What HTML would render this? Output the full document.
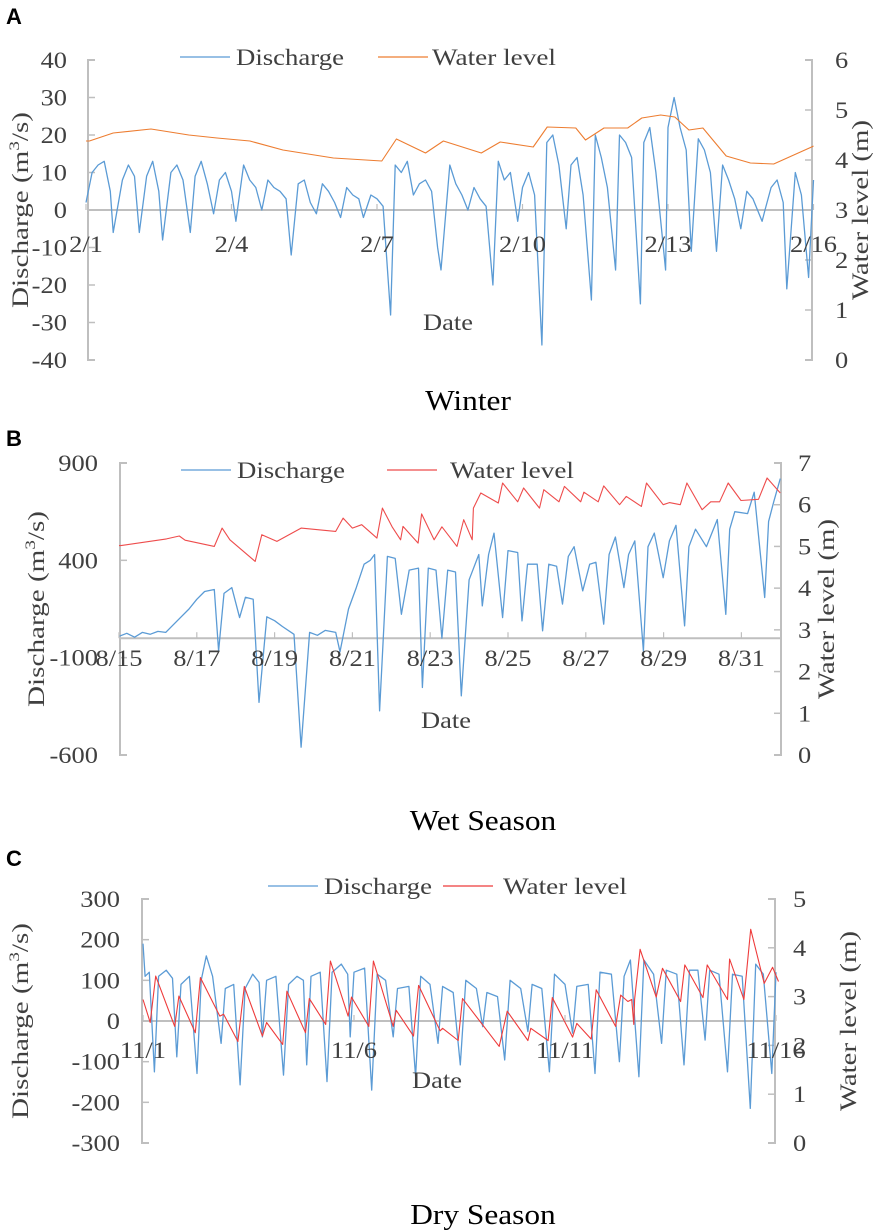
<!DOCTYPE html>
<html><head><meta charset="utf-8"><style>
html,body{margin:0;padding:0;background:#fff;width:886px;height:1231px;overflow:hidden}
svg{display:block}
text{font-family:"Liberation Serif",serif;fill:#404040}
.pl{font-family:"Liberation Sans",sans-serif;font-weight:bold;fill:#000;font-size:22px}
.tk{font-size:23px}
.ttl{font-size:28px;fill:#000}
</style></head><body>
<svg id="chart" width="886" height="1231" viewBox="0 0 886 1231" xmlns="http://www.w3.org/2000/svg"></svg>
<script>
// ---------- Panel A (Winter) data ----------
const aDischargeDays = [0,0.125,0.25,0.375,0.5,0.56,0.75,0.875,1.0,1.1,1.25,1.375,1.5,1.58,1.75,1.875,2.0,2.15,2.25,2.375,2.5,2.63,2.75,2.875,3.0,3.09,3.25,3.375,3.5,3.625,3.75,3.875,4.0,4.125,4.23,4.375,4.5,4.625,4.75,4.875,5.0,5.125,5.25,5.375,5.5,5.625,5.72,5.875,6.0,6.125,6.28,6.375,6.5,6.625,6.75,6.875,7.0,7.125,7.25,7.32,7.5,7.625,7.75,7.875,8.0,8.125,8.25,8.39,8.5,8.625,8.75,8.9,9.0,9.125,9.25,9.4,9.5,9.625,9.75,9.9,10.0,10.125,10.25,10.42,10.5,10.625,10.75,10.92,11.0,11.125,11.25,11.43,11.5,11.625,11.75,11.95,12.0,12.125,12.25,12.375,12.48,12.625,12.75,12.875,13.0,13.125,13.25,13.375,13.5,13.625,13.75,13.94,14.0,14.125,14.25,14.375,14.45,14.625,14.75,14.9,15.0];
const aDischargeVals = [2,10,12,13,5,-6,8,12,9,-6,9,13,5,-8,10,12,8,-6,9,13,7,-1,8,10,5,-3,12,8,6,0,8,6,5,3,-12,7,8,2,-1,7,5,2,-2,6,4,3,-2,4,3,1,-28,12,10,13,4,7,8,5,-10,-16,12,7,4,0,6,3,1,-20,13,8,10,-3,6,10,4,-36,18,20,12,-5,12,14,4,-24,20,14,6,-16,20,18,14,-25,18,22,10,-16,22,30,22,16,-11,19,16,10,-11,12,8,3,-5,5,3,-3,0,6,8,2,-21,10,4,-18,8];
const aLevelDays = [0,0.07,0.56,1.34,2.12,2.7,3.38,4.06,5.1,6.1,6.4,7.0,7.37,8.15,8.54,9.22,9.51,10.1,10.3,10.68,11.17,11.46,11.85,12.14,12.43,12.72,13.2,13.7,14.18,14.96,15.0];
const aLevelVals = [4.38,4.38,4.54,4.62,4.5,4.44,4.38,4.2,4.04,3.98,4.42,4.14,4.38,4.14,4.36,4.26,4.66,4.64,4.4,4.64,4.64,4.84,4.9,4.86,4.6,4.64,4.08,3.94,3.92,4.26,4.28];
const aLeftTicks = [40,30,20,10,0,-10,-20,-30,-40];
const aRightTicks = [6,5,4,3,2,1,0];
const aDateLabels = ["2/1","2/4","2/7","2/10","2/13","2/16"];
const aDateDays = [0,3,6,9,12,15];

// ---------- Panel B (Wet season) data ----------
const bDischargeDays = [0,0.2,0.4,0.6,0.8,1.0,1.2,1.4,1.6,1.8,2.0,2.2,2.45,2.56,2.7,2.9,3.1,3.25,3.45,3.6,3.8,4.0,4.2,4.5,4.68,4.9,5.1,5.3,5.57,5.68,5.9,6.1,6.3,6.46,6.57,6.7,6.9,7.1,7.26,7.46,7.7,7.8,7.95,8.15,8.3,8.45,8.65,8.8,9.0,9.25,9.34,9.5,9.64,9.86,10.0,10.25,10.36,10.5,10.75,10.89,11.05,11.25,11.4,11.55,11.7,11.92,12.1,12.26,12.46,12.6,12.76,12.98,13.1,13.26,13.48,13.6,13.76,13.99,14.15,14.32,14.54,14.65,14.82,15.1,15.38,15.6,15.7,15.83,16.16,16.33,16.6,16.7,16.83,17.0];
const bDischargeVals = [10,25,5,30,20,35,30,70,110,150,200,240,250,-65,230,260,106,210,200,-330,110,90,60,20,-560,30,15,40,30,-70,150,260,380,400,430,-373,420,410,123,350,360,-253,360,350,0,350,340,-296,300,430,166,430,540,106,450,440,89,380,380,38,380,370,175,420,470,243,380,390,72,430,520,260,430,500,-65,470,540,311,500,580,63,470,560,470,610,123,560,650,640,750,209,600,700,820];
const bLevelDays = [0,0.05,1.22,1.55,1.7,2.45,2.65,2.85,3.5,3.67,4.06,4.68,5.57,5.76,6.0,6.24,6.63,6.77,7.02,7.24,7.3,7.69,7.78,8.1,8.3,8.69,8.86,9.08,9.11,9.3,9.75,9.86,10.25,10.4,10.81,10.92,11.31,11.45,11.87,11.95,12.32,12.46,12.87,13.04,13.43,13.56,13.99,14.15,14.43,14.6,14.99,15.21,15.44,15.66,15.99,16.44,16.66,17.0];
const bLevelVals = [5.02,5.02,5.18,5.25,5.15,5.0,5.44,5.16,4.64,5.28,5.12,5.44,5.36,5.68,5.44,5.52,5.2,5.92,5.47,5.16,5.48,5.08,5.78,5.16,5.47,5.0,5.64,5.16,5.92,6.28,6.04,6.52,6.07,6.4,5.92,6.36,6.07,6.44,6.07,6.3,6.07,6.45,6.0,6.2,5.96,6.52,6.0,6.05,6.0,6.52,5.88,6.07,6.07,6.52,6.1,6.13,6.64,6.28];
const bLeftTicks = [900,400,-100,-600];
const bRightTicks = [7,6,5,4,3,2,1,0];
const bDateLabels = ["8/15","8/17","8/19","8/21","8/23","8/25","8/27","8/29","8/31"];
const bDateDays = [0,2,4,6,8,10,12,14,16];

// ---------- Panel C (Dry season) data ----------
const cDischargeDays = [0,0.05,0.15,0.27,0.37,0.55,0.7,0.8,0.9,1.1,1.28,1.38,1.5,1.65,1.85,1.95,2.15,2.3,2.42,2.6,2.75,2.83,2.93,3.15,3.33,3.45,3.65,3.8,3.88,3.98,4.2,4.36,4.48,4.7,4.85,4.91,5.0,5.25,5.42,5.55,5.75,5.93,6.03,6.3,6.46,6.58,6.8,6.99,7.1,7.35,7.52,7.65,7.9,8.05,8.15,8.4,8.57,8.7,8.95,9.12,9.22,9.45,9.63,9.75,10.0,10.18,10.28,10.55,10.71,10.83,11.1,11.29,11.4,11.55,11.75,11.87,12.1,12.29,12.4,12.65,12.82,12.95,13.15,13.32,13.43,13.65,13.85,13.97,14.2,14.39,14.52,14.7,14.9,15.0];
const cDischargeVals = [190,110,120,-125,110,125,105,-88,90,110,-129,100,160,110,-55,80,90,-157,80,115,95,-39,100,110,-133,90,110,100,-108,110,120,-149,120,140,115,-39,120,130,-170,115,100,-39,80,85,-137,110,90,-55,85,70,-108,100,80,-14,70,60,-96,100,80,-26,90,80,-125,115,90,-30,85,90,-129,120,115,-100,110,150,-137,150,115,-55,125,115,-108,125,125,-47,125,115,-125,115,110,-215,140,115,-129,120];
const cLevelDays = [0,0.17,0.30,0.75,0.85,1.24,1.36,1.82,1.91,2.25,2.4,2.83,2.93,3.31,3.41,3.85,3.94,4.33,4.44,4.86,4.94,5.35,5.46,5.93,6.0,6.41,6.53,7.04,7.1,7.47,7.57,8.44,8.63,9.12,9.19,9.6,9.7,10.18,10.28,10.62,10.74,11.2,11.32,11.49,11.58,11.63,11.65,11.78,12.16,12.31,12.74,12.84,13.27,13.37,13.85,13.9,14.24,14.4,14.72,14.92,15.06];
const cLevelVals = [2.94,2.47,3.42,2.39,3.01,2.26,3.39,2.6,2.64,2.08,3.21,2.19,2.47,2.02,3.11,2.26,2.96,2.43,3.73,2.6,2.99,2.39,3.73,2.39,2.72,2.19,3.23,2.3,2.35,2.1,2.96,1.98,2.7,2.1,2.35,2.1,2.98,2.17,2.45,2.13,3.14,2.39,3.03,2.9,2.94,2.43,2.94,3.97,2.99,3.58,2.9,3.65,2.98,3.65,2.94,3.77,2.94,4.38,3.27,3.6,3.31];
const cLeftTicks = [300,200,100,0,-100,-200,-300];
const cRightTicks = [5,4,3,2,1,0];
const cDateLabels = ["11/1","11/6","11/11","11/16"];
const cDateDays = [0,5,10,15];

const NS = "http://www.w3.org/2000/svg";
const svg = document.getElementById("chart");
function mk(tag, attrs, parent, txt){
  const e = document.createElementNS(NS, tag);
  for (const k in attrs) e.setAttribute(k, attrs[k]);
  if (txt !== undefined) e.textContent = txt;
  (parent || svg).appendChild(e);
  return e;
}
function stretch(el, f){
  const w = el.getComputedTextLength();
  if (w > 0) {
    el.setAttribute("textLength", (w * f).toFixed(1));
    el.setAttribute("lengthAdjust", "spacingAndGlyphs");
  }
}
const AX = "#bfbfbf";
const SX = 1.15;

function panel(cfg){
  const g = mk("g", {});
  
  
  const xs = d => cfg.x0 + d * cfg.xPerDay;
  const yl = v => cfg.yTop + (cfg.lMax - v) / (cfg.lMax - cfg.lMin) * (cfg.yBot - cfg.yTop);
  const yr = v => cfg.yTop + (cfg.rMax - v) / (cfg.rMax - cfg.rMin) * (cfg.yBot - cfg.yTop);
  const pl = mk("text", {x: 6, y: cfg.letterY, class: "pl"}, g, cfg.letter);
  
  
  const la = mk("path", {d:`M${cfg.axL+7},${cfg.yTop}H${cfg.axL}V${cfg.yBot}H${cfg.axL+7}`, stroke: AX, "stroke-width": 2, fill: "none"}, g);
  
  
  cfg.lTicks.forEach(t => {
    const y = yl(t);
    mk("line", {x1: cfg.axL, x2: cfg.axL+7, y1: y, y2: y, stroke: AX, "stroke-width": 1.5}, g);
    const tl = mk("text", {x: cfg.lLabX, y: y + 8, "text-anchor": "end", class: "tk"}, g, String(t));
    
    
    stretch(tl, SX);
  });
  const ra = mk("path", {d:`M${cfg.axR-7},${cfg.yTop}H${cfg.axR}V${cfg.yBot}H${cfg.axR-7}`, stroke: AX, "stroke-width": 2, fill: "none"}, g);
  
  
  cfg.rTicks.forEach(t => {
    const y = yr(t);
    mk("line", {x1: cfg.axR-7, x2: cfg.axR, y1: y, y2: y, stroke: AX, "stroke-width": 1.5}, g);
    const tl = mk("text", {x: cfg.rLabX, y: y + 8, class: "tk"}, g, String(t));
    
    
    stretch(tl, SX);
  });
  const y0 = yl(0);
  const zl = mk("line", {x1: cfg.axL, x2: cfg.axR, y1: y0, y2: y0, stroke: AX, "stroke-width": 2}, g);
  
  
  const ds = mk("polyline", {points: cfg.dDays.map((d, i) => xs(d).toFixed(1) + "," + yl(cfg.dVals[i]).toFixed(1)).join(" "), fill: "none", stroke: "#5b9bd5", "stroke-width": 1.3, "stroke-linejoin": "round"}, g);
  
  
  const ws = mk("polyline", {points: cfg.wDays.map((d, i) => xs(d).toFixed(1) + "," + yr(cfg.wVals[i]).toFixed(1)).join(" "), fill: "none", stroke: cfg.wColor, "stroke-width": 1.1, "stroke-linejoin": "round"}, g);
  
  
  cfg.dateDays.forEach((d, i) => {
    const x = xs(d);
    mk("line", {x1: x, x2: x, y1: y0 - 6, y2: y0, stroke: AX, "stroke-width": 1.2}, g);
    const dl = mk("text", {x: x, y: y0 + cfg.dateOff, "text-anchor": "middle", class: "tk"}, g, cfg.dateLabels[i]);
    
    
    stretch(dl, SX);
  });
  const lg = mk("g", {}, g);
  
  
  mk("line", {x1: cfg.leg[0], x2: cfg.leg[0]+50, y1: cfg.legY, y2: cfg.legY, stroke: "#5b9bd5", "stroke-width": 1.3}, lg);
  const t1 = mk("text", {x: cfg.leg[0]+56, y: cfg.legY + 8, class: "tk", "font-size": "24"}, lg, "Discharge");
  
  
  t1.setAttribute("textLength", "108");
  t1.setAttribute("lengthAdjust", "spacingAndGlyphs");
  mk("line", {x1: cfg.leg[1], x2: cfg.leg[1]+50, y1: cfg.legY, y2: cfg.legY, stroke: cfg.wColor, "stroke-width": 1.3}, lg);
  const t2 = mk("text", {x: cfg.leg[2], y: cfg.legY + 8, class: "tk", "font-size": "24"}, lg, "Water level");
  
  
  t2.setAttribute("textLength", "124");
  t2.setAttribute("lengthAdjust", "spacingAndGlyphs");
  const dt = mk("text", {x: cfg.dateX, y: cfg.dateY, "text-anchor": "middle", class: "tk"}, g, "Date");
  
  
  stretch(dt, SX);
  const yc = (cfg.yTop + cfg.yBot) / 2;
  const ylt = mk("text", {x: 0, y: 0, "text-anchor": "middle", class: "tk", "font-size": "24", transform: `translate(${cfg.lTitleX},${yc}) rotate(-90)`}, g);
  
  
  ylt.appendChild(document.createTextNode("Discharge (m"));
  mk("tspan", {dy: -9, "font-size": "15"}, ylt, "3");
  mk("tspan", {dy: 9}, ylt, "/s)");
  ylt.setAttribute("textLength", "196");
  ylt.setAttribute("lengthAdjust", "spacingAndGlyphs");
  const yrt = mk("text", {x: 0, y: 0, "text-anchor": "middle", class: "tk", "font-size": "24", transform: `translate(${cfg.rTitleX},${yc}) rotate(-90)`}, g, "Water level (m)");
  
  
  yrt.setAttribute("textLength", "180");
  yrt.setAttribute("lengthAdjust", "spacingAndGlyphs");
  const ct = mk("text", {x: cfg.capX, y: cfg.capY, "text-anchor": "middle", class: "ttl"}, g, cfg.caption);
  
  
  stretch(ct, 1.12);
}

panel({name:"panel-a-winter", letter:"A", letterY:24, x0:86, xPerDay:48.5, axL:88, axR:812, yTop:60, yBot:360,
  lMax:40, lMin:-40, rMax:6, rMin:0, lTicks:aLeftTicks, rTicks:aRightTicks, lLabX:67, rLabX:835,
  dateDays:aDateDays, dateLabels:aDateLabels, dateOff:42, dDays:aDischargeDays, dVals:aDischargeVals,
  wDays:aLevelDays, wVals:aLevelVals, wColor:"#ed7d31", leg:[180,378,432], legY:57,
  dateX:448, dateY:330, lTitleX:28, rTitleX:868, capX:468, capY:410, caption:"Winter"});

panel({name:"panel-b-wet-season", letter:"B", letterY:446, x0:119, xPerDay:38.9, axL:120, axR:781, yTop:463, yBot:755,
  lMax:900, lMin:-600, rMax:7, rMin:0, lTicks:bLeftTicks, rTicks:bRightTicks, lLabX:98, rLabX:798,
  dateDays:bDateDays, dateLabels:bDateLabels, dateOff:28, dDays:bDischargeDays, dVals:bDischargeVals,
  wDays:bLevelDays, wVals:bLevelVals, wColor:"#ee4c4c", leg:[181,387,450], legY:470,
  dateX:446, dateY:728, lTitleX:44, rTitleX:834, capX:483, capY:830, caption:"Wet Season"});

panel({name:"panel-c-dry-season", letter:"C", letterY:866, x0:143, xPerDay:42.2, axL:142, axR:775, yTop:899, yBot:1143,
  lMax:300, lMin:-300, rMax:5, rMin:0, lTicks:cLeftTicks, rTicks:cRightTicks, lLabX:120, rLabX:793,
  dateDays:cDateDays, dateLabels:cDateLabels, dateOff:37, dDays:cDischargeDays, dVals:cDischargeVals,
  wDays:cLevelDays, wVals:cLevelVals, wColor:"#ee3b3b", leg:[268,443,503], legY:886,
  dateX:437, dateY:1088, lTitleX:28, rTitleX:856, capX:483, capY:1224, caption:"Dry Season"});
</script>
</body></html>
